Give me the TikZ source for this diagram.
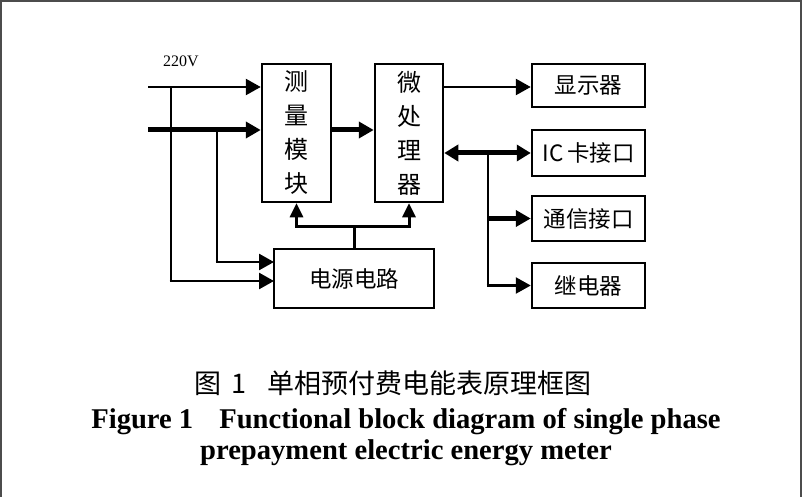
\documentclass[tikz,border=0pt]{standalone}
\usepackage{fontspec}
\setmainfont{Liberation Serif}
\newfontfamily\cjk{Noto Sans CJK SC}
\usetikzlibrary{arrows.meta,calc}
\tikzset{
  blk/.style={draw, line width=2.5pt, inner sep=0pt, font=\cjk\fontsize{22.5}{26}\selectfont},
  tallblk/.style={blk, minimum width=69pt, minimum height=138pt, align=center, font=\cjk\fontsize{24}{34}\selectfont},
  rblk/.style={blk, minimum width=113pt, minimum height=45pt},
  tip/.style={-{Triangle[length=15pt,width=16pt]}},
  stip/.style={-{Triangle[length=14pt,width=13pt]}},
  dtip/.style={{Triangle[length=14pt,width=16pt]}-{Triangle[length=14pt,width=16pt]}},
  thinln/.style={line width=2.6pt},
  thickln/.style={line width=5pt},
  midln/.style={line width=3pt}
}
\begin{document}
\begin{tikzpicture}[x=1pt,y=-1pt]
\useasboundingbox (0,0) rectangle (802,497);
\fill[gray!60!black] (0,0) rectangle (802,2);
\fill[gray!60!black] (0,0) rectangle (2,497);
\fill[gray!60!black] (800,0) rectangle (802,497);

\node[tallblk] (meas) at (296.5,133) {\rule{0pt}{8pt}测\\量\\模\\块};
\node[tallblk, minimum width=68pt] (micro) at (409,133) {\rule{0pt}{8pt}微\\处\\理\\器};
\node[blk, minimum width=160pt, minimum height=59pt] (power) at (354,278.5) {电源电路};
\node[rblk, minimum height=43pt] (disp) at (588.5,85.5) {显示器};
\node[rblk, minimum height=46pt] (ic) at (588.5,153) {IC\,卡接口};
\node[rblk] (comm) at (588.5,218.5) {通信接口};
\node[rblk] (relay) at (588.5,285.5) {继电器};

\node[font=\fontsize{16}{19}\selectfont, anchor=base] (v) at (181,67) {220V};

\coordinate (in1) at (148,87);
\coordinate (in2) at (148,130);
\coordinate (j1) at (171,87);
\coordinate (j2) at (217,130);
\coordinate (pa) at (274,262);
\coordinate (pb) at (274,281);

\draw[thinln,tip] (in1) -- (in1 -| meas.west);
\draw[thickln,tip] (in2) -- (in2 -| meas.west);
\draw[thinln] (j1) -- (j1 |- pb);
\draw[thinln,tip] ($(j1 |- pb)+(-1.3,0)$) -- (pb);
\draw[thinln] (j2) -- (j2 |- pa);
\draw[thinln,tip] ($(j2 |- pa)+(-1.3,0)$) -- (pa);

\draw[thickln,tip] (meas.east |- in2) -- (micro.west |- in2);

\draw[midln] (power.north) -- ++(0,-21) coordinate (pt);
\draw[midln,stip] (pt) -| (meas.south);
\draw[midln,stip] (pt) -| (micro.south);

\draw[thinln,tip] (micro.east |- in1) -- (in1 -| disp.west);
\draw[thickln,dtip] (micro.east |- ic.west) -- (ic.west);
\coordinate (b) at (488,153);
\draw[thinln] (b) -- (b |- relay.west);
\draw[thickln,tip] (b |- comm.west) -- (comm.west);
\draw[thinln,tip] ($(b |- relay.west)+(-1.3,0)$) -- (relay.west);

\node[font=\cjk\fontsize{27}{30}\selectfont, anchor=base] (cap1) at (393,393) {图\hspace{10pt}1\hspace{22pt}单相预付费电能表原理框图};
\node[font=\bfseries\fontsize{28.6}{32}\selectfont, anchor=base] (cap2) at (406,428) {Figure 1\hspace{26pt}Functional block diagram of single phase};
\node[font=\bfseries\fontsize{28.6}{32}\selectfont, anchor=base] (cap3) at (406,459) {prepayment electric energy meter};
\end{tikzpicture}
\end{document}
